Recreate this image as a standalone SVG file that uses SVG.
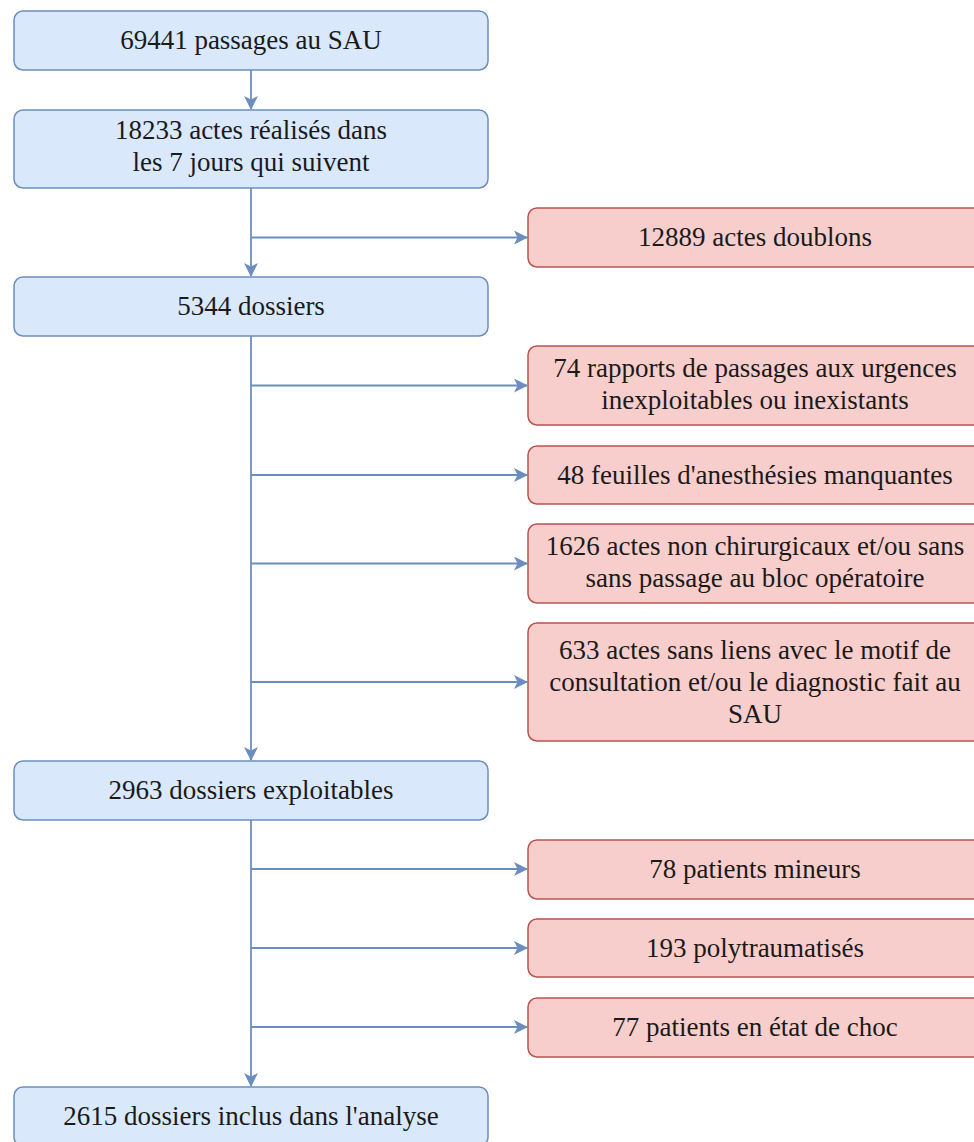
<svg xmlns="http://www.w3.org/2000/svg" width="974" height="1142" viewBox="0 0 974 1142">
<style>
.b{fill:#dae8fc;stroke:#6c8ebf;stroke-width:1.5}
.r{fill:#f8cecc;stroke:#b85450;stroke-width:1.5}
.c{fill:none;stroke:#6c8ebf;stroke-width:1.8}
text{font-family:'Liberation Serif','DejaVu Serif',serif;font-size:27px;fill:#1a1a1a;text-anchor:middle}
</style>
<defs>
<marker id="a" viewBox="0 0 14 14" refX="13" refY="7" markerWidth="14" markerHeight="14" markerUnits="userSpaceOnUse" orient="auto">
<path d="M0,0 L14,7 L0,14 L3.5,7 Z" fill="#6c8ebf"/>
</marker>
</defs>
<rect width="974" height="1142" fill="#ffffff"/>
<g id="connectors">
<path class="c" d="M251,70 V109" marker-end="url(#a)"/>
<path class="c" d="M251,188 V276" marker-end="url(#a)"/>
<path class="c" d="M251,336 V760" marker-end="url(#a)"/>
<path class="c" d="M251,820 V1086" marker-end="url(#a)"/>
<path class="c" d="M251,237.5 H527" marker-end="url(#a)"/>
<path class="c" d="M251,385.5 H527" marker-end="url(#a)"/>
<path class="c" d="M251,475 H527" marker-end="url(#a)"/>
<path class="c" d="M251,563.5 H527" marker-end="url(#a)"/>
<path class="c" d="M251,682 H527" marker-end="url(#a)"/>
<path class="c" d="M251,869 H527" marker-end="url(#a)"/>
<path class="c" d="M251,948 H527" marker-end="url(#a)"/>
<path class="c" d="M251,1027 H527" marker-end="url(#a)"/>
</g>
<g id="n1"><rect class="b" x="14" y="11" width="474" height="59" rx="9"/><text x="251" y="49">69441 passages au SAU</text></g>
<g id="n2"><rect class="b" x="14" y="110" width="474" height="78" rx="9"/><text x="251" y="139">18233 actes réalisés dans</text><text x="251" y="171">les 7 jours qui suivent</text></g>
<g id="n3"><rect class="b" x="14" y="277" width="474" height="59" rx="9"/><text x="251" y="315">5344 dossiers</text></g>
<g id="n4"><rect class="b" x="14" y="761" width="474" height="59" rx="9"/><text x="251" y="799">2963 dossiers exploitables</text></g>
<g id="n5"><rect class="b" x="14" y="1087" width="474" height="59" rx="9"/><text x="251" y="1125">2615 dossiers inclus dans l'analyse</text></g>
<g id="r1"><rect class="r" x="528" y="208" width="454" height="59" rx="9"/><text x="755" y="246">12889 actes doublons</text></g>
<g id="r2"><rect class="r" x="528" y="346" width="454" height="79" rx="9"/><text x="755" y="377">74 rapports de passages aux urgences</text><text x="755" y="409">inexploitables ou inexistants</text></g>
<g id="r3"><rect class="r" x="528" y="446" width="454" height="58" rx="9"/><text x="755" y="484">48 feuilles d'anesthésies manquantes</text></g>
<g id="r4"><rect class="r" x="528" y="524" width="454" height="79" rx="9"/><text x="755" y="555">1626 actes non chirurgicaux et/ou sans</text><text x="755" y="587">sans passage au bloc opératoire</text></g>
<g id="r5"><rect class="r" x="528" y="623" width="454" height="118" rx="9"/><text x="755" y="659">633 actes sans liens avec le motif de</text><text x="755" y="691">consultation et/ou le diagnostic fait au</text><text x="755" y="723">SAU</text></g>
<g id="r6"><rect class="r" x="528" y="840" width="454" height="59" rx="9"/><text x="755" y="878">78 patients mineurs</text></g>
<g id="r7"><rect class="r" x="528" y="919" width="454" height="58" rx="9"/><text x="755" y="957">193 polytraumatisés</text></g>
<g id="r8"><rect class="r" x="528" y="998" width="454" height="59" rx="9"/><text x="755" y="1036">77 patients en état de choc</text></g>
</svg>
